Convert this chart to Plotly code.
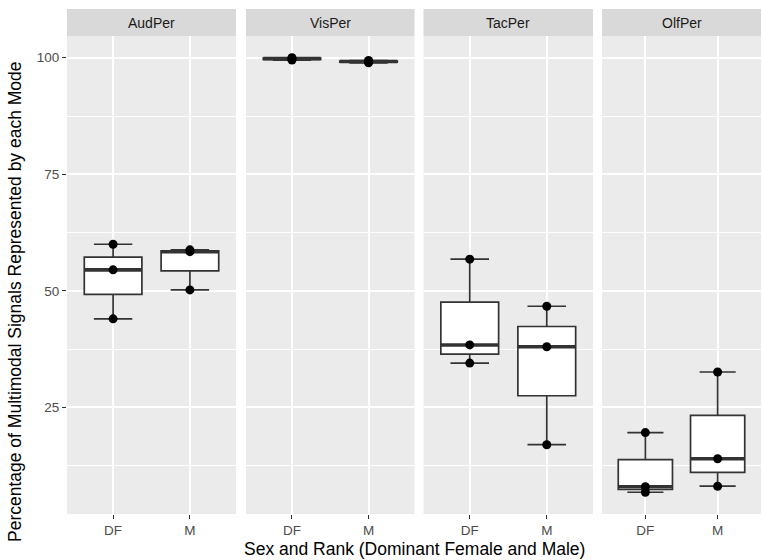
import numpy as np
import plotly.graph_objects as go

# Percentage of multimodal signals represented by each sensory mode
modes = ["AudPer", "VisPer", "TacPer", "OlfPer"]
groups = ["DF", "M"]

aud_df = [44.0, 54.5, 60.0]
aud_m = [50.2, 58.4, 58.8]
vis_df = [99.5, 99.8, 100.0]
vis_m = [98.9, 99.2, 99.4]
tac_df = [34.5, 38.4, 56.8]
tac_m = [17.0, 38.0, 46.7]
olf_df = [6.8, 8.0, 19.6]
olf_m = [8.1, 14.0, 32.6]

series = {
    "AudPer": [aud_df, aud_m],
    "VisPer": [vis_df, vis_m],
    "TacPer": [tac_df, tac_m],
    "OlfPer": [olf_df, olf_m],
}

W, H = 762, 560
ML, MR, MT, MB = 67, 1, 9, 46
PW, PH = W - ML - MR, H - MT - MB
panel_px = [(67, 236), (246, 414.5), (423.5, 593), (602, 761)]
strip_bottom_px = 36

def px_to_paper_x(px):
    return (px - ML) / PW

def px_to_paper_y(py):
    return 1 - (py - MT) / PH

strip_y0 = px_to_paper_y(strip_bottom_px)

LINE = "#333333"
BOX_W = 0.75
font_family = "Liberation Sans, Arial, sans-serif"
TICK_SIZE = 13.5
STRIP_SIZE = 14
TITLE_SIZE = 17.5

fig = go.Figure()

all_vals = np.concatenate([np.array(v) for s in series.values() for v in s])
lo, hi = all_vals.min(), all_vals.max()
pad = 0.05 * (hi - lo)
yrange = [lo - pad, hi + pad]

for i, mode in enumerate(modes):
    xa = "x" if i == 0 else f"x{i+1}"
    ya = "y" if i == 0 else f"y{i+1}"
    for j, vals in enumerate(series[mode]):
        v = np.array(vals)
        q1, med, q3 = np.percentile(v, [25, 50, 75])
        iqr = q3 - q1
        lowf = v[v >= q1 - 1.5 * iqr].min()
        upf = v[v <= q3 + 1.5 * iqr].max()
        fig.add_trace(go.Box(
            x=[j], q1=[q1], median=[med], q3=[q3],
            lowerfence=[lowf], upperfence=[upf],
            width=BOX_W, whiskerwidth=0.667,
            fillcolor="white", line=dict(color=LINE, width=1.7),
            boxpoints=False, showlegend=False, hoverinfo="skip",
            xaxis=xa, yaxis=ya,
        ))
        # thicker median bar
        fig.add_trace(go.Scatter(
            x=[j - BOX_W / 2, j + BOX_W / 2], y=[med, med], mode="lines",
            line=dict(color=LINE, width=3.6), showlegend=False,
            hoverinfo="skip", xaxis=xa, yaxis=ya,
        ))
        fig.add_trace(go.Scatter(
            x=[j] * len(v), y=v, mode="markers",
            marker=dict(color="black", size=9),
            showlegend=False, xaxis=xa, yaxis=ya,
        ))

layout = dict(
    width=W, height=H,
    margin=dict(l=ML, r=MR, t=MT, b=MB),
    paper_bgcolor="white", plot_bgcolor="#EBEBEB",
    font=dict(family=font_family, color="#4D4D4D", size=TICK_SIZE),
    showlegend=False,
)

shapes = []
annotations = []
for i, mode in enumerate(modes):
    x0 = px_to_paper_x(panel_px[i][0])
    x1 = px_to_paper_x(panel_px[i][1])
    key = "xaxis" if i == 0 else f"xaxis{i+1}"
    ykey = "yaxis" if i == 0 else f"yaxis{i+1}"
    layout[key] = dict(
        domain=[x0, x1], anchor="y" if i == 0 else f"y{i+1}",
        range=[-0.6, 1.6], tickmode="array", tickvals=[0, 1], ticktext=groups,
        showgrid=True, gridcolor="white", gridwidth=1.6,
        zeroline=False, ticks="outside", ticklen=4, tickwidth=1.4,
        tickcolor=LINE, tickfont=dict(size=TICK_SIZE, color="#4D4D4D"),
        showline=False,
    )
    layout[ykey] = dict(
        domain=[0, strip_y0], anchor="x" if i == 0 else f"x{i+1}",
        range=yrange, tickmode="array", tickvals=[25, 50, 75, 100],
        showgrid=True, gridcolor="white", gridwidth=1.6,
        minor=dict(tickvals=[12.5, 37.5, 62.5, 87.5], showgrid=True,
                   gridcolor="white", gridwidth=0.8),
        zeroline=False, showline=False,
        ticks="outside" if i == 0 else "", ticklen=4, tickwidth=1.4,
        tickcolor=LINE, showticklabels=(i == 0),
        tickfont=dict(size=TICK_SIZE, color="#4D4D4D"),
    )
    if i > 0:
        layout[ykey]["matches"] = "y"
    shapes.append(dict(type="rect", xref="paper", yref="paper",
                       x0=x0, x1=x1, y0=strip_y0, y1=1,
                       fillcolor="#D9D9D9", line=dict(width=0), layer="below"))
    annotations.append(dict(text=mode, xref="paper", yref="paper",
                            x=(x0 + x1) / 2, y=(strip_y0 + 1) / 2,
                            xanchor="center", yanchor="middle", showarrow=False,
                            font=dict(size=STRIP_SIZE, color="#1A1A1A")))

# axis titles
annotations.append(dict(text="Percentage of Multimodal Signals Represented by each Mode",
                        xref="paper", yref="paper",
                        x=(15 - ML) / PW, y=px_to_paper_y(302),
                        xanchor="center", yanchor="middle", textangle=-90,
                        showarrow=False, font=dict(size=TITLE_SIZE, color="black")))
annotations.append(dict(text="Sex and Rank (Dominant Female and Male)",
                        xref="paper", yref="paper",
                        x=(px_to_paper_x(panel_px[0][0]) + px_to_paper_x(panel_px[3][1])) / 2,
                        y=px_to_paper_y(549), xanchor="center", yanchor="middle",
                        showarrow=False, font=dict(size=TITLE_SIZE, color="black")))

layout["shapes"] = shapes
layout["annotations"] = annotations
fig.update_layout(**layout)

fig.write_html("out.html")
